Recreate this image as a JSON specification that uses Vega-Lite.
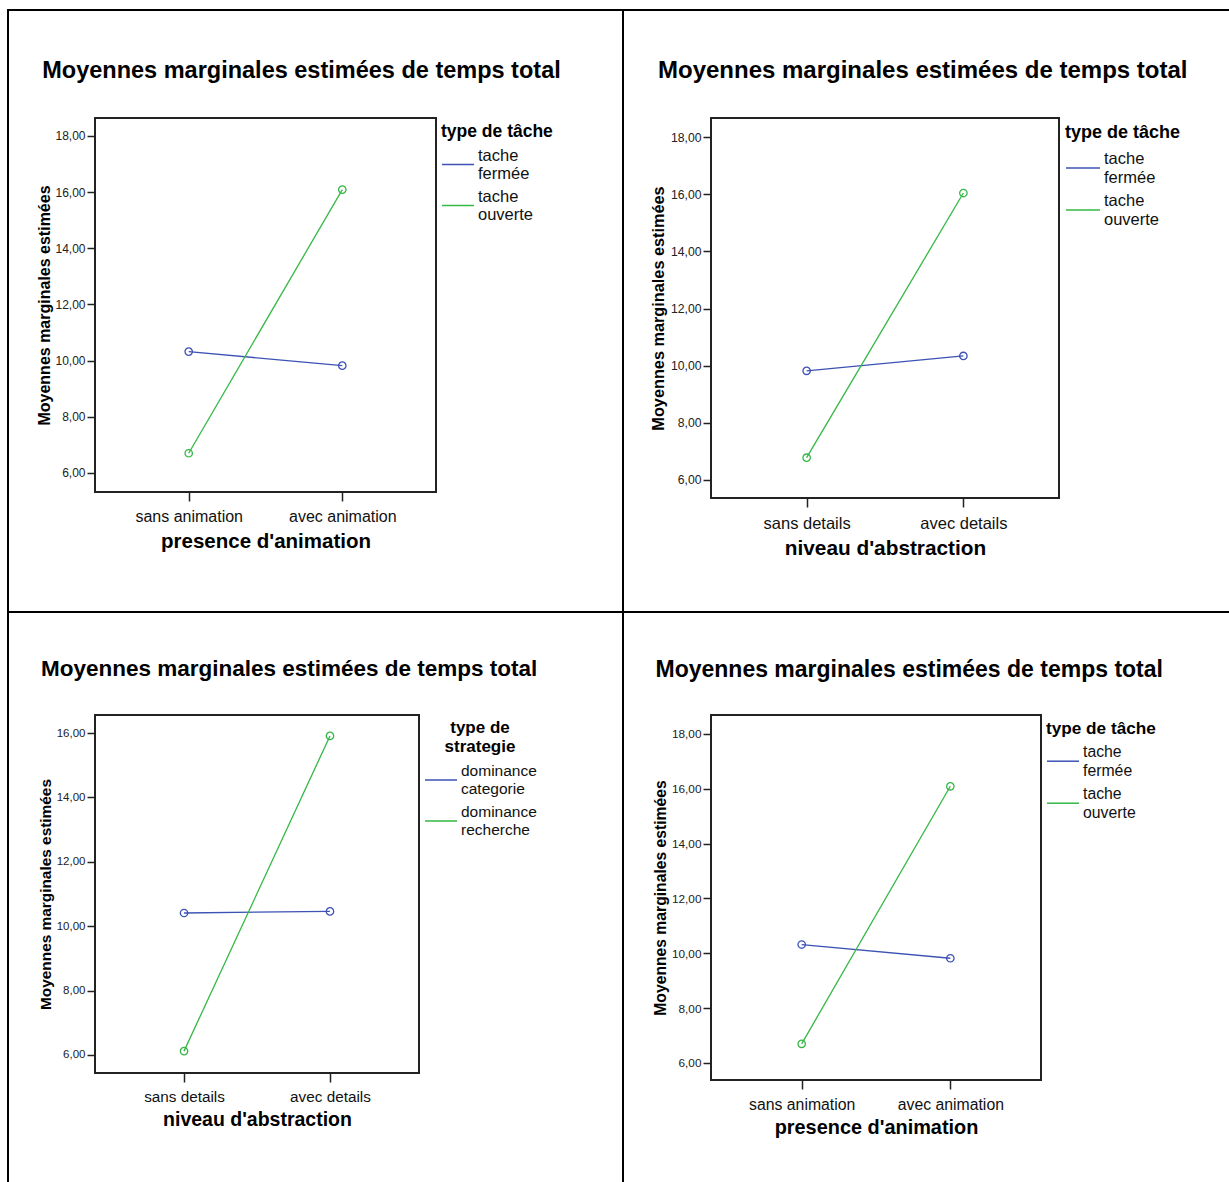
{
  "$schema": "https://vega.github.io/schema/vega-lite/v6.json",
  "padding": {"left": 7, "top": 9, "right": 0, "bottom": 0},
  "background": "white",
  "spacing": 0,
  "columns": 7,
  "align": "each",
  "bounds": "flush",
  "resolve": {"scale": {"color": "independent"}, "legend": {"color": "independent"}},
  "config": {"view": {"stroke": null}, "font": "Liberation Sans"},
  "datasets": {
    "d1": [
      {"animation": "sans animation", "tache": "tache fermée", "moyenne": 10.32},
      {"animation": "avec animation", "tache": "tache fermée", "moyenne": 9.82},
      {"animation": "sans animation", "tache": "tache ouverte", "moyenne": 6.70},
      {"animation": "avec animation", "tache": "tache ouverte", "moyenne": 16.09}
    ],
    "d2": [
      {"niveau": "sans details", "tache": "tache fermée", "moyenne": 9.82},
      {"niveau": "avec details", "tache": "tache fermée", "moyenne": 10.34},
      {"niveau": "sans details", "tache": "tache ouverte", "moyenne": 6.78},
      {"niveau": "avec details", "tache": "tache ouverte", "moyenne": 16.04}
    ],
    "d3": [
      {"niveau": "sans details", "strategie": "dominance categorie", "moyenne": 10.41},
      {"niveau": "avec details", "strategie": "dominance categorie", "moyenne": 10.46},
      {"niveau": "sans details", "strategie": "dominance recherche", "moyenne": 6.12},
      {"niveau": "avec details", "strategie": "dominance recherche", "moyenne": 15.91}
    ],
    "d4": [
      {"animation": "sans animation", "tache": "tache fermée", "moyenne": 10.32},
      {"animation": "avec animation", "tache": "tache fermée", "moyenne": 9.82},
      {"animation": "sans animation", "tache": "tache ouverte", "moyenne": 6.70},
      {"animation": "avec animation", "tache": "tache ouverte", "moyenne": 16.09}
    ],
    "empty": []
  },
  "concat": [
    {"width": 2, "height": 2, "data": {"name": "empty"}, "mark": "point", "view": {"fill": "black", "stroke": null}},
    {"width": 86, "height": 2, "data": {"name": "empty"}, "mark": "point", "view": {"fill": "black", "stroke": null}},
    {"width": 341, "height": 2, "data": {"name": "empty"}, "mark": "point", "view": {"fill": "black", "stroke": null}},
    {"width": 186, "height": 2, "data": {"name": "empty"}, "mark": "point", "view": {"fill": "black", "stroke": null}},
    {"width": 2, "height": 2, "data": {"name": "empty"}, "mark": "point", "view": {"fill": "black", "stroke": null}},
    {"width": 87, "height": 2, "data": {"name": "empty"}, "mark": "point", "view": {"fill": "black", "stroke": null}},
    {"width": 518, "height": 2, "data": {"name": "empty"}, "mark": "point", "view": {"fill": "black", "stroke": null}},

    {"width": 2, "height": 107, "data": {"name": "empty"}, "mark": "point", "view": {"fill": "black", "stroke": null}},
    {"width": 86, "height": 107, "data": {"name": "empty"}, "mark": "point"},
    {"width": 341, "height": 107, "data": {"name": "empty"}, "mark": "point"},
    {"width": 186, "height": 107, "data": {"name": "empty"}, "mark": "point"},
    {"width": 2, "height": 107, "data": {"name": "empty"}, "mark": "point", "view": {"fill": "black", "stroke": null}},
    {"width": 87, "height": 107, "data": {"name": "empty"}, "mark": "point"},
    {"width": 348, "height": 107, "data": {"name": "empty"}, "mark": "point"},

    {"width": 2, "height": 380, "data": {"name": "empty"}, "mark": "point", "view": {"fill": "black", "stroke": null}},
    {"width": 86, "height": 380, "data": {"name": "empty"}, "mark": "point"},
    {
      "width": 341, "height": 374,
      "data": {"name": "d1"},
      "title": {"text": "Moyennes marginales estimées de temps total", "font": "Liberation Sans", "fontSize": 23.5, "fontWeight": "bold", "color": "black", "anchor": "middle", "frame": "bounds", "offset": 36, "dx": 4},
      "view": {"stroke": "#222", "strokeWidth": 2},
      "encoding": {
        "x": {"field": "animation", "type": "nominal", "sort": ["sans animation", "avec animation"], "scale": {"type": "point", "padding": 0.61},
          "axis": {"title": "presence d'animation", "labelAngle": 0, "labelFont": "Liberation Sans", "labelFontSize": 16, "labelColor": "#111", "labelPadding": 7, "tickSize": 9, "tickColor": "#222", "tickWidth": 1.5, "domain": false, "grid": false, "titleFont": "Liberation Sans", "titleFontSize": 20.5, "titleFontWeight": "bold", "titleColor": "black", "titlePadding": 7}},
        "y": {"field": "moyenne", "type": "quantitative", "scale": {"domain": [5.32, 18.64], "nice": false, "zero": false},
          "axis": {"title": "Moyennes marginales estimées", "values": [6, 8, 10, 12, 14, 16, 18], "labelExpr": "replace(format(datum.value, '.2f'), '.', ',')", "labelFont": "Liberation Sans", "labelFontSize": 12, "labelColor": "#222", "labelPadding": 2, "tickSize": 8, "tickColor": "#222", "tickWidth": 1.5, "domain": false, "grid": false, "titleFont": "Liberation Sans", "titleFontSize": 16, "titleFontWeight": "bold", "titleColor": "black", "titlePadding": 2}}
      },
      "layer": [
        {"mark": {"type": "line", "strokeWidth": 1.3},
         "encoding": {"color": {"field": "tache", "type": "nominal", "scale": {"domain": ["tache fermée", "tache ouverte"], "range": ["#3c52b4", "#34b845"]},
           "legend": {"title": "type de tâche", "orient": "right", "offset": 0, "padding": 5, "titleFont": "Liberation Sans", "titleFontSize": 17.5, "titleFontWeight": "bold", "titleColor": "black", "titlePadding": 7, "labelFont": "Liberation Sans", "labelFontSize": 16.5, "labelColor": "#111", "labelExpr": "split(datum.label, ' ')", "labelOffset": 3, "labelLimit": 300, "symbolType": "stroke", "symbolSize": 1024, "symbolStrokeWidth": 1.5, "rowPadding": 6,
             "encode": {"labels": {"update": {"dy": {"value": -9}, "lineHeight": {"value": 18}}}}}}}},
        {"mark": {"type": "point", "filled": false, "size": 55, "strokeWidth": 1.3, "opacity": 1},
         "encoding": {"color": {"field": "tache", "type": "nominal", "scale": {"domain": ["tache fermée", "tache ouverte"], "range": ["#3c52b4", "#34b845"]}, "legend": null}}}
      ]
    },
    {"width": 186, "height": 380, "data": {"name": "empty"}, "mark": "point"},
    {"width": 2, "height": 380, "data": {"name": "empty"}, "mark": "point", "view": {"fill": "black", "stroke": null}},
    {"width": 87, "height": 380, "data": {"name": "empty"}, "mark": "point"},
    {
      "width": 348, "height": 380,
      "data": {"name": "d2"},
      "title": {"text": "Moyennes marginales estimées de temps total", "font": "Liberation Sans", "fontSize": 24, "fontWeight": "bold", "color": "black", "anchor": "middle", "frame": "bounds", "offset": 35, "dx": 4},
      "view": {"stroke": "#222", "strokeWidth": 2},
      "encoding": {
        "x": {"field": "niveau", "type": "nominal", "sort": ["sans details", "avec details"], "scale": {"type": "point", "padding": 0.61},
          "axis": {"title": "niveau d'abstraction", "labelAngle": 0, "labelFont": "Liberation Sans", "labelFontSize": 16.5, "labelColor": "#111", "labelPadding": 8, "tickSize": 9, "tickColor": "#222", "tickWidth": 1.5, "domain": false, "grid": false, "titleFont": "Liberation Sans", "titleFontSize": 20.8, "titleFontWeight": "bold", "titleColor": "black", "titlePadding": 7}},
        "y": {"field": "moyenne", "type": "quantitative", "scale": {"domain": [5.37, 18.665], "nice": false, "zero": false},
          "axis": {"title": "Moyennes marginales estimées", "values": [6, 8, 10, 12, 14, 16, 18], "labelExpr": "replace(format(datum.value, '.2f'), '.', ',')", "labelFont": "Liberation Sans", "labelFontSize": 12.2, "labelColor": "#222", "labelPadding": 2, "tickSize": 8, "tickColor": "#222", "tickWidth": 1.5, "domain": false, "grid": false, "titleFont": "Liberation Sans", "titleFontSize": 16.3, "titleFontWeight": "bold", "titleColor": "black", "titlePadding": 4}}
      },
      "layer": [
        {"mark": {"type": "line", "strokeWidth": 1.3},
         "encoding": {"color": {"field": "tache", "type": "nominal", "scale": {"domain": ["tache fermée", "tache ouverte"], "range": ["#3c52b4", "#34b845"]},
           "legend": {"title": "type de tâche", "orient": "right", "offset": 0, "padding": 6, "titleFont": "Liberation Sans", "titleFontSize": 18, "titleFontWeight": "bold", "titleColor": "black", "titlePadding": 8, "labelFont": "Liberation Sans", "labelFontSize": 16.5, "labelColor": "#111", "labelExpr": "split(datum.label, ' ')", "labelOffset": 3, "labelLimit": 300, "symbolType": "stroke", "symbolSize": 1156, "symbolStrokeWidth": 1.5, "rowPadding": 6,
             "encode": {"labels": {"update": {"dy": {"value": -9.5}, "lineHeight": {"value": 19}}}}}}}},
        {"mark": {"type": "point", "filled": false, "size": 55, "strokeWidth": 1.3, "opacity": 1},
         "encoding": {"color": {"field": "tache", "type": "nominal", "scale": {"domain": ["tache fermée", "tache ouverte"], "range": ["#3c52b4", "#34b845"]}, "legend": null}}}
      ]
    },

    {"width": 2, "height": 113, "data": {"name": "empty"}, "mark": "point", "view": {"fill": "black", "stroke": null}},
    {"width": 86, "height": 113, "data": {"name": "empty"}, "mark": "point"},
    {"width": 341, "height": 113, "data": {"name": "empty"}, "mark": "point"},
    {"width": 186, "height": 113, "data": {"name": "empty"}, "mark": "point"},
    {"width": 2, "height": 113, "data": {"name": "empty"}, "mark": "point", "view": {"fill": "black", "stroke": null}},
    {"width": 87, "height": 113, "data": {"name": "empty"}, "mark": "point"},
    {"width": 348, "height": 113, "data": {"name": "empty"}, "mark": "point"},

    {"width": 2, "height": 2, "data": {"name": "empty"}, "mark": "point", "view": {"fill": "black", "stroke": null}},
    {"width": 86, "height": 2, "data": {"name": "empty"}, "mark": "point", "view": {"fill": "black", "stroke": null}},
    {"width": 341, "height": 2, "data": {"name": "empty"}, "mark": "point", "view": {"fill": "black", "stroke": null}},
    {"width": 186, "height": 2, "data": {"name": "empty"}, "mark": "point", "view": {"fill": "black", "stroke": null}},
    {"width": 2, "height": 2, "data": {"name": "empty"}, "mark": "point", "view": {"fill": "black", "stroke": null}},
    {"width": 87, "height": 2, "data": {"name": "empty"}, "mark": "point", "view": {"fill": "black", "stroke": null}},
    {"width": 518, "height": 2, "data": {"name": "empty"}, "mark": "point", "view": {"fill": "black", "stroke": null}},

    {"width": 2, "height": 102, "data": {"name": "empty"}, "mark": "point", "view": {"fill": "black", "stroke": null}},
    {"width": 86, "height": 102, "data": {"name": "empty"}, "mark": "point"},
    {"width": 341, "height": 102, "data": {"name": "empty"}, "mark": "point"},
    {"width": 186, "height": 102, "data": {"name": "empty"}, "mark": "point"},
    {"width": 2, "height": 102, "data": {"name": "empty"}, "mark": "point", "view": {"fill": "black", "stroke": null}},
    {"width": 87, "height": 102, "data": {"name": "empty"}, "mark": "point"},
    {"width": 348, "height": 102, "data": {"name": "empty"}, "mark": "point"},

    {"width": 2, "height": 365, "data": {"name": "empty"}, "mark": "point", "view": {"fill": "black", "stroke": null}},
    {"width": 86, "height": 365, "data": {"name": "empty"}, "mark": "point"},
    {
      "width": 324, "height": 358,
      "data": {"name": "d3"},
      "title": {"text": "Moyennes marginales estimées de temps total", "font": "Liberation Sans", "fontSize": 22.5, "fontWeight": "bold", "color": "black", "anchor": "middle", "frame": "bounds", "offset": 35, "dx": -1},
      "view": {"stroke": "#222", "strokeWidth": 2},
      "encoding": {
        "x": {"field": "niveau", "type": "nominal", "sort": ["sans details", "avec details"], "scale": {"type": "point", "padding": 0.61},
          "axis": {"title": "niveau d'abstraction", "labelAngle": 0, "labelFont": "Liberation Sans", "labelFontSize": 15.3, "labelColor": "#111", "labelPadding": 7, "tickSize": 9, "tickColor": "#222", "tickWidth": 1.5, "domain": false, "grid": false, "titleFont": "Liberation Sans", "titleFontSize": 19.5, "titleFontWeight": "bold", "titleColor": "black", "titlePadding": 6}},
        "y": {"field": "moyenne", "type": "quantitative", "scale": {"domain": [5.44, 16.56], "nice": false, "zero": false},
          "axis": {"title": "Moyennes marginales estimées", "values": [6, 8, 10, 12, 14, 16], "labelExpr": "replace(format(datum.value, '.2f'), '.', ',')", "labelFont": "Liberation Sans", "labelFontSize": 11.5, "labelColor": "#222", "labelPadding": 2, "tickSize": 8, "tickColor": "#222", "tickWidth": 1.5, "domain": false, "grid": false, "titleFont": "Liberation Sans", "titleFontSize": 15.4, "titleFontWeight": "bold", "titleColor": "black", "titlePadding": 3}}
      },
      "layer": [
        {"mark": {"type": "line", "strokeWidth": 1.3},
         "encoding": {"color": {"field": "strategie", "type": "nominal", "scale": {"domain": ["dominance categorie", "dominance recherche"], "range": ["#3c52b4", "#34b845"]},
           "legend": {"title": ["type de", "strategie"], "titleAnchor": "middle", "titleAlign": "center", "orient": "right", "offset": 0, "padding": 5, "titleFont": "Liberation Sans", "titleFontSize": 17, "titleFontWeight": "bold", "titleColor": "black", "titlePadding": 7, "labelFont": "Liberation Sans", "labelFontSize": 15.5, "labelColor": "#111", "labelExpr": "split(datum.label, ' ')", "labelOffset": 3, "labelLimit": 300, "symbolType": "stroke", "symbolSize": 1024, "symbolStrokeWidth": 1.5, "rowPadding": 6,
             "encode": {"labels": {"update": {"dy": {"value": -9}, "lineHeight": {"value": 18}}}}}}}},
        {"mark": {"type": "point", "filled": false, "size": 55, "strokeWidth": 1.3, "opacity": 1},
         "encoding": {"color": {"field": "strategie", "type": "nominal", "scale": {"domain": ["dominance categorie", "dominance recherche"], "range": ["#3c52b4", "#34b845"]}, "legend": null}}}
      ]
    },
    {"width": 186, "height": 365, "data": {"name": "empty"}, "mark": "point"},
    {"width": 2, "height": 365, "data": {"name": "empty"}, "mark": "point", "view": {"fill": "black", "stroke": null}},
    {"width": 87, "height": 365, "data": {"name": "empty"}, "mark": "point"},
    {
      "width": 330, "height": 365,
      "data": {"name": "d4"},
      "title": {"text": "Moyennes marginales estimées de temps total", "font": "Liberation Sans", "fontSize": 23, "fontWeight": "bold", "color": "black", "anchor": "middle", "frame": "bounds", "offset": 33, "dx": 2.5},
      "view": {"stroke": "#222", "strokeWidth": 2},
      "encoding": {
        "x": {"field": "animation", "type": "nominal", "sort": ["sans animation", "avec animation"], "scale": {"type": "point", "padding": 0.61},
          "axis": {"title": "presence d'animation", "labelAngle": 0, "labelFont": "Liberation Sans", "labelFontSize": 15.8, "labelColor": "#111", "labelPadding": 8, "tickSize": 9, "tickColor": "#222", "tickWidth": 1.5, "domain": false, "grid": false, "titleFont": "Liberation Sans", "titleFontSize": 19.9, "titleFontWeight": "bold", "titleColor": "black", "titlePadding": 6}},
        "y": {"field": "moyenne", "type": "quantitative", "scale": {"domain": [5.38, 18.69], "nice": false, "zero": false},
          "axis": {"title": "Moyennes marginales estimées", "values": [6, 8, 10, 12, 14, 16, 18], "labelExpr": "replace(format(datum.value, '.2f'), '.', ',')", "labelFont": "Liberation Sans", "labelFontSize": 11.8, "labelColor": "#222", "labelPadding": 2, "tickSize": 8, "tickColor": "#222", "tickWidth": 1.5, "domain": false, "grid": false, "titleFont": "Liberation Sans", "titleFontSize": 15.7, "titleFontWeight": "bold", "titleColor": "black", "titlePadding": 3}}
      },
      "layer": [
        {"mark": {"type": "line", "strokeWidth": 1.3},
         "encoding": {"color": {"field": "tache", "type": "nominal", "scale": {"domain": ["tache fermée", "tache ouverte"], "range": ["#3c52b4", "#34b845"]},
           "legend": {"title": "type de tâche", "orient": "right", "offset": 0, "padding": 5, "titleFont": "Liberation Sans", "titleFontSize": 17.2, "titleFontWeight": "bold", "titleColor": "black", "titlePadding": 7, "labelFont": "Liberation Sans", "labelFontSize": 15.8, "labelColor": "#111", "labelExpr": "split(datum.label, ' ')", "labelOffset": 3, "labelLimit": 300, "symbolType": "stroke", "symbolSize": 1024, "symbolStrokeWidth": 1.5, "rowPadding": 6,
             "encode": {"labels": {"update": {"dy": {"value": -9.5}, "lineHeight": {"value": 19}}}}}}}},
        {"mark": {"type": "point", "filled": false, "size": 55, "strokeWidth": 1.3, "opacity": 1},
         "encoding": {"color": {"field": "tache", "type": "nominal", "scale": {"domain": ["tache fermée", "tache ouverte"], "range": ["#3c52b4", "#34b845"]}, "legend": null}}}
      ]
    },

    {"width": 2, "height": 102, "data": {"name": "empty"}, "mark": "point", "view": {"fill": "black", "stroke": null}},
    {"width": 86, "height": 102, "data": {"name": "empty"}, "mark": "point"},
    {"width": 341, "height": 102, "data": {"name": "empty"}, "mark": "point"},
    {"width": 186, "height": 102, "data": {"name": "empty"}, "mark": "point"},
    {"width": 2, "height": 102, "data": {"name": "empty"}, "mark": "point", "view": {"fill": "black", "stroke": null}},
    {"width": 87, "height": 102, "data": {"name": "empty"}, "mark": "point"},
    {"width": 348, "height": 102, "data": {"name": "empty"}, "mark": "point"}
  ]
}
